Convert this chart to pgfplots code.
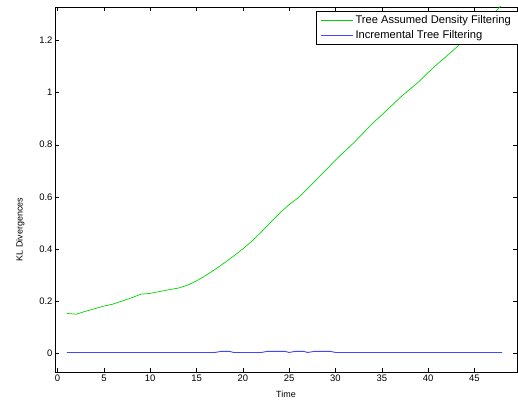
\documentclass[border=0pt]{standalone}
\usepackage{pgfplots}
\pgfplotsset{compat=1.18}
\usepackage{fontspec}
\setmainfont{Liberation Sans}
\definecolor{mgreen}{RGB}{0,215,0}
\definecolor{mblue}{RGB}{70,70,255}
\begin{document}
\begin{tikzpicture}
\begin{axis}[
  scale only axis,
  width=462bp, height=365bp,
  xmin=-0.28, xmax=49.6,
  ymin=-0.073, ymax=1.329,
  xtick={0,5,...,45},
  ytick={0,0.2,0.4,0.6,0.8,1,1.2},
  yticklabels={0,0.2,0.4,0.6,0.8,1,1.2},
  tick align=inside,
  major tick length=4bp,
  tick style={black, line width=0.4pt},
  axis line style={line width=0.5pt},
  tick label style={font=\fontsize{9.5}{10}\selectfont},
  /pgf/number format/assume math mode=true,
  xticklabel style={yshift=1bp},
  yticklabel style={xshift=1bp},
  xlabel={Time},
  ylabel={KL Divergences},
  label style={font=\fontsize{9}{10}\selectfont},
  xlabel style={at={(rel axis cs:0.5,0)}, anchor=north, yshift=-15bp},
  ylabel style={at={(rel axis cs:0,0.39)}, anchor=south, xshift=0bp, yshift=27bp},
  legend style={at={(rel axis cs:1,1)}, anchor=north east, yshift=-4bp, xshift=1bp,
    font=\fontsize{11.2}{12}\selectfont, draw=black, line width=0.5pt,
    inner xsep=5bp, inner ysep=2bp, row sep=2bp, cells={anchor=west}},
  legend image post style={line width=0.6pt},
  legend image code/.code={\draw[#1] (0cm,0cm) -- (32bp,0cm);},
  clip=true,
]
\addplot[mgreen, line width=0.7pt] coordinates {
(1,0.152) (2,0.149) (3,0.160) (4,0.170) (5,0.180) (6,0.188) (7,0.200) (8,0.212)
(9,0.226) (10,0.229) (11,0.236) (12,0.243) (13,0.249) (14,0.260) (15,0.277)
(16,0.298) (17,0.321) (18,0.346) (19,0.372) (20,0.400) (21,0.430) (22,0.465)
(23,0.502) (24,0.538) (25,0.570) (26,0.597) (27,0.632) (28,0.668) (29,0.704)
(30,0.741) (31,0.775) (32,0.808) (33,0.845) (34,0.882) (35,0.914) (36,0.948)
(37,0.982) (38,1.012) (39,1.042) (40,1.077) (41,1.110) (42,1.140) (43,1.172)
(44,1.205) (45,1.238) (46,1.268) (47,1.300) (48,1.340)
};
\addlegendentry{Tree Assumed Density Filtering}
\addplot[mblue, line width=0.9pt] coordinates {
(1,0.002) (2,0.002) (3,0.002) (4,0.002) (5,0.002) (6,0.002) (7,0.002) (8,0.002)
(9,0.002) (10,0.002) (11,0.002) (12,0.002) (13,0.002) (14,0.002) (15,0.002)
(16,0.002) (17,0.002) (17.6,0.006) (18.6,0.006) (19,0.002) (20,0.002) (21,0.002)
(22,0.002) (22.6,0.006) (24.6,0.006) (25,0.002) (25.6,0.006) (26.6,0.006) (27,0.002)
(27.7,0.006) (29.5,0.006) (30,0.002) (31,0.002) (32,0.002) (33,0.002) (34,0.002)
(35,0.002) (36,0.002) (37,0.002) (38,0.002) (39,0.002) (40,0.002) (41,0.002)
(42,0.002) (43,0.002) (44,0.002) (45,0.002) (46,0.002) (47,0.002) (48,0.002)
};
\addlegendentry{Incremental Tree Filtering}
\end{axis}
\pgfresetboundingbox
\path[use as bounding box] ([xshift=-55bp,yshift=-33bp]current axis.south west) rectangle ([xshift=1bp,yshift=7bp]current axis.north east);
\end{tikzpicture}
\end{document}
